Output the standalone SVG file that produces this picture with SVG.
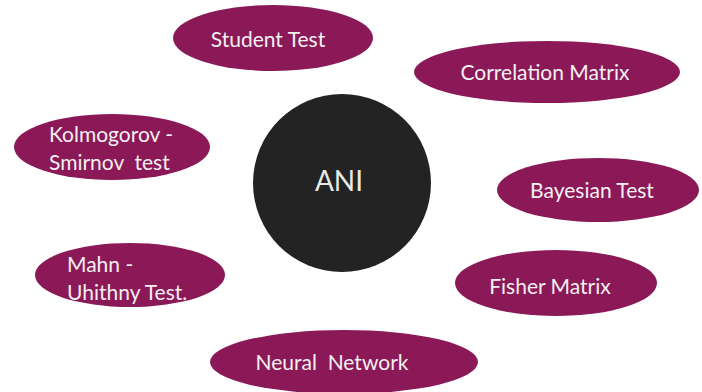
<svg xmlns="http://www.w3.org/2000/svg" width="702" height="392" viewBox="0 0 702 392">
<style>
.bub{fill:#8b1958}
.t{font-family:Lato,"Open Sans","Liberation Sans",sans-serif;font-size:21px;fill:#f4f0f2}
.c{text-anchor:middle}
</style>
<rect width="702" height="392" fill="#ffffff"/>
<g id="connectors"></g>
<g id="ani">
<circle cx="342" cy="183" r="89" fill="#232323"/>
<text x="339" y="191" class="c" style="font-family:Lato,'Open Sans','Liberation Sans',sans-serif;font-size:28px;fill:#e8e8e8">ANI</text>
</g>
<g id="student-test">
<ellipse class="bub" cx="273" cy="38" rx="100" ry="33"/>
<text class="t c" x="268" y="47">Student Test</text>
</g>
<g id="correlation-matrix">
<ellipse class="bub" cx="547" cy="72" rx="133" ry="31"/>
<text class="t c" x="545" y="80">Correlation Matrix</text>
</g>
<g id="kolmogorov">
<ellipse class="bub" cx="112" cy="147" rx="98" ry="33"/>
<text class="t" x="49" y="142">Kolmogorov -</text>
<text class="t" x="49" y="170" xml:space="preserve">Smirnov  test</text>
</g>
<g id="bayesian-test">
<ellipse class="bub" cx="598" cy="190" rx="101" ry="32"/>
<text class="t c" x="592" y="198">Bayesian Test</text>
</g>
<g id="mahn">
<ellipse class="bub" cx="130" cy="275" rx="95" ry="32"/>
<text class="t" x="67" y="272">Mahn -</text>
<text class="t" x="67" y="300">Uhithny Test.</text>
</g>
<g id="fisher-matrix">
<ellipse class="bub" cx="556" cy="283" rx="101" ry="33"/>
<text class="t c" x="550" y="294">Fisher Matrix</text>
</g>
<g id="neural-network">
<ellipse class="bub" cx="344" cy="362" rx="134" ry="32"/>
<text class="t c" x="332" y="370" xml:space="preserve">Neural  Network</text>
</g>
</svg>
